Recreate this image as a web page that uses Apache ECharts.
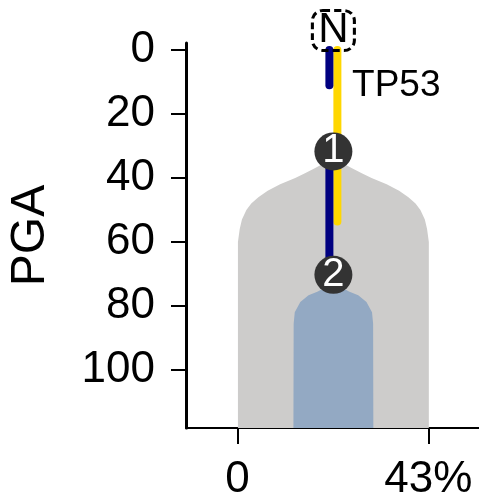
<!DOCTYPE html>
<html>
<head>
<meta charset="utf-8">
<script src="https://cdn.jsdelivr.net/npm/echarts@6/dist/echarts.min.js"></script>
<style>
html,body{margin:0;padding:0;background:#fff;}
#chart{width:479px;height:498px;}
</style>
</head>
<body>
<div id="chart"></div>
<script>
// ---- data ----
const yTickValues = [0, 20, 40, 60, 80, 100];
const xTickValues = [0, 43];
const xTickLabels = ['0', '43%'];
const clusterCenter = 21.6;
// outer (grey) clone: PGA depth and half-width (%)
const grayPga  = [34.5, 35.5, 37, 38.5, 40, 42, 44, 46, 48, 50, 53, 56, 60, 118.2];
const grayHalf = [0, 2.2, 4.2, 6.4, 8.6, 12.0, 14.8, 16.9, 18.5, 19.6, 20.6, 21.1, 21.5, 21.5];
// inner (blue) clone
const bluePga  = [73.7, 74.2, 74.8, 75.5, 76.7, 78.8, 82, 85.6, 118.2];
const blueHalf = [0, 1.5, 2.6, 3.5, 5.6, 7.45, 8.7, 8.95, 9.0];
// mutation lines
const navyX = 20.7;
const navySegments = [[0, 11], [31.7, 70.3]];
const yellowX = 22.5;
const yellowSegment = [0, 53.6];
// clone nodes
const nodeLabels = ['1', '2'];
const nodePga = [31.7, 70.3];
const rootLabel = 'N';
const rootPga = -6.1;
const geneLabel = 'TP53';
const genePos = [25.8, 11.1];

const FONT = '"Liberation Sans", Arial, sans-serif';

function cloneShape(pga, half, color, z) {
  return {
    type: 'custom',
    coordinateSystem: 'cartesian2d',
    silent: true,
    z: z,
    data: [[clusterCenter, pga[0]]],
    renderItem: function (params, api) {
      const pts = [];
      for (let i = 0; i < pga.length; i++) pts.push(api.coord([clusterCenter - half[i], pga[i]]));
      for (let i = pga.length - 1; i >= 0; i--) pts.push(api.coord([clusterCenter + half[i], pga[i]]));
      return { type: 'polygon', shape: { points: pts }, style: { fill: color } };
    }
  };
}

function segLine(x, seg, color) {
  return {
    type: 'line', silent: true, symbol: 'none', z: 4,
    data: [[x, seg[0]], [x, seg[1]]],
    lineStyle: { color: color, width: 8, cap: 'round', opacity: 1 }
  };
}

const series = [
  cloneShape(grayPga, grayHalf, '#cdcccb', 1),
  cloneShape(bluePga, blueHalf, '#93a9c3', 2),
  segLine(yellowX, yellowSegment, '#ffd700')
];
navySegments.forEach(s => series.push(segLine(navyX, s, '#000080')));
series.push({
  type: 'scatter', silent: true, z: 6,
  symbol: 'circle', symbolSize: 38,
  itemStyle: { color: '#333333', opacity: 1 },
  data: nodePga.map((p, i) => [clusterCenter, p, nodeLabels[i]]),
  label: {
    show: true, position: 'inside', color: '#fff', fontSize: 40, fontFamily: FONT,
    formatter: p => p.value[2]
  }
});
series.push({
  type: 'scatter', silent: true, z: 7, clip: false,
  symbol: 'roundRect', symbolSize: [42, 40],
  itemStyle: { color: 'rgba(0,0,0,0)', borderColor: '#000', borderWidth: 3, borderType: [7, 4], opacity: 1 },
  data: [[clusterCenter, rootPga, rootLabel]],
  label: { show: true, position: 'inside', color: '#000', fontSize: 42, fontFamily: FONT, formatter: p => p.value[2] }
});
series.push({
  type: 'scatter', silent: true, z: 7, clip: false,
  symbolSize: 0,
  itemStyle: { opacity: 1 },
  data: [[genePos[0], genePos[1], geneLabel]],
  label: { show: true, position: 'right', distance: 0, color: '#000', fontSize: 37, fontFamily: FONT, formatter: p => p.value[2] }
});

const chart = echarts.init(document.getElementById('chart'), null, { renderer: 'canvas' });
chart.setOption({
  animation: false,
  backgroundColor: '#fff',
  grid: { left: 186, right: 0, top: 43, bottom: 70, containLabel: false, outerBoundsMode: 'none' },
  xAxis: {
    type: 'value', min: -11.6, max: 54.4,
    axisLine: { onZero: false, lineStyle: { color: '#000', width: 2 } },
    axisTick: { show: true, length: 16, customValues: xTickValues, lineStyle: { color: '#000', width: 2 } },
    axisLabel: {
      customValues: xTickValues, color: '#000', fontSize: 44, fontFamily: FONT, margin: 30,
      formatter: v => xTickLabels[xTickValues.indexOf(v)]
    },
    splitLine: { show: false }
  },
  yAxis: {
    type: 'value', inverse: true, min: -2.2, max: 118.2,
    name: 'PGA', nameLocation: 'middle', nameGap: 131,
    nameTextStyle: { color: '#000', fontSize: 48, fontFamily: FONT },
    axisLine: { onZero: false, lineStyle: { color: '#000', width: 3 } },
    axisTick: { show: true, length: 15, customValues: yTickValues, lineStyle: { color: '#000', width: 2 } },
    axisLabel: { customValues: yTickValues, color: '#000', fontSize: 44, fontFamily: FONT, margin: 31 },
    splitLine: { show: false }
  },
  series: series
});
</script>
</body>
</html>
